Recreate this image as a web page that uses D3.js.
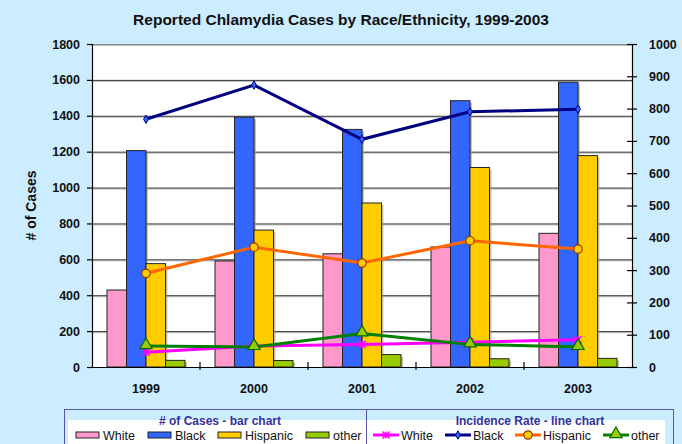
<!DOCTYPE html>
<html>
<head>
<meta charset="utf-8">
<script src="https://cdn.jsdelivr.net/npm/d3@7"></script>
<style>
  body { margin: 0; background: #CCECFF; }
  svg { display: block; font-family: "Liberation Sans", Arial, sans-serif; }
</style>
</head>
<body>
<svg id="chart" width="682" height="444"></svg>
<script>
// Data
const years = ["1999", "2000", "2001", "2002", "2003"];
const groups = ["White", "Black", "Hispanic", "other"];

// # of cases (bars, left axis)
const casesWhite = [429, 591, 631, 669, 745];
const casesBlack = [1206, 1392, 1324, 1484, 1587];
const casesHispanic = [576, 763, 914, 1112, 1178];
const casesOther = [37, 36, 69, 46, 48];

// incidence rate (lines, right axis)
const rateWhite = [46, 65, 70, 77, 84];
const rateBlack = [767, 873, 705, 790, 798];
const rateHispanic = [290, 371, 322, 391, 365];
const rateOther = [65, 62, 104, 70, 62];

const leftTicks = [0, 200, 400, 600, 800, 1000, 1200, 1400, 1600, 1800];
const rightTicks = [0, 100, 200, 300, 400, 500, 600, 700, 800, 900, 1000];

const barColors = ["#FF99CC", "#3366FF", "#FFCC00", "#99CC00"];
const cases = [casesWhite, casesBlack, casesHispanic, casesOther];

const lineSeries = [
  {name: "White", values: rateWhite, color: "#FF00FF", marker: "x"},
  {name: "Black", values: rateBlack, color: "#000080", marker: "diamond"},
  {name: "Hispanic", values: rateHispanic, color: "#FF6600", marker: "circle"},
  {name: "other", values: rateOther, color: "#008000", marker: "triangle"}
];

const svg = d3.select("#chart");
const margin = {top: 44, right: 50, bottom: 77, left: 92};
const width = 682 - margin.left - margin.right,
      height = 444 - margin.top - margin.bottom;

const g = svg.append("g").attr("transform", `translate(${margin.left},${margin.top})`);

// title
svg.append("text")
  .attr("x", 341).attr("y", 25)
  .attr("text-anchor", "middle")
  .style("font-size", "15.5px").style("font-weight", "bold").style("fill", "#111")
  .text("Reported Chlamydia Cases by Race/Ethnicity, 1999-2003");

// scales
const x = d3.scaleBand().domain(years).range([0, width]);
const xInner = d3.scaleBand().domain(groups).range([15, x.bandwidth() - 15]);
const y = d3.scaleLinear().domain([0, 1800]).range([height, 0]);
const y2 = d3.scaleLinear().domain([0, 1000]).range([height, 0]);

// plot area
g.append("rect").attr("width", width).attr("height", height).attr("fill", "#fff");

// gridlines with a faint shadow
g.selectAll(".grid-sh").data(leftTicks.slice(1))
  .enter().append("line")
  .attr("x1", 0).attr("x2", width)
  .attr("y1", d => y(d) + 1.5).attr("y2", d => y(d) + 1.5)
  .attr("stroke", "#bbb").attr("stroke-width", 1);
g.selectAll(".grid").data(leftTicks.slice(1))
  .enter().append("line")
  .attr("x1", 0).attr("x2", width)
  .attr("y1", d => y(d) + 0.5).attr("y2", d => y(d) + 0.5)
  .attr("stroke", d => d === 1800 ? "#888" : "#333").attr("stroke-width", 1);

// bars
const barData = [];
years.forEach((yr, i) => {
  groups.forEach((grp, j) => barData.push({year: yr, group: grp, value: cases[j][i], color: barColors[j]}));
});

const bars = g.append("g");
bars.selectAll(".shadow").data(barData).enter().append("rect")
  .attr("x", d => x(d.year) + xInner(d.group) + 2)
  .attr("y", d => y(d.value) + 2)
  .attr("width", xInner.bandwidth())
  .attr("height", d => height - y(d.value) - 2)
  .attr("fill", "#999").attr("opacity", 0.6);
bars.selectAll(".bar").data(barData).enter().append("rect")
  .attr("class", "bar")
  .attr("x", d => x(d.year) + xInner(d.group))
  .attr("y", d => y(d.value))
  .attr("width", xInner.bandwidth())
  .attr("height", d => height - y(d.value))
  .attr("fill", d => d.color)
  .attr("stroke", "#222").attr("stroke-width", 1);

// axes
const leftAxis = g.append("g")
  .call(d3.axisLeft(y).tickValues(leftTicks).tickFormat(d3.format("d")).tickSize(5).tickPadding(7));
const rightAxis = g.append("g")
  .attr("transform", `translate(${width},0)`)
  .call(d3.axisRight(y2).tickValues(rightTicks).tickFormat(d3.format("d")).tickSize(5).tickPadding(12));
rightAxis.selectAll(".tick line").attr("x1", -5);
const bottomAxis = g.append("g")
  .attr("transform", `translate(0,${height})`)
  .call(d3.axisBottom(x).tickSize(0).tickPadding(17));

[leftAxis, rightAxis, bottomAxis].forEach(a => {
  a.select(".domain").attr("stroke", "#000").attr("stroke-width", 1.2);
  a.selectAll(".tick line").attr("stroke", "#000").attr("stroke-width", 1.2);
  a.selectAll("text").style("font-size", "12.5px").style("font-weight", "bold")
    .style("fill", "#111").style("font-family", "'Liberation Sans', Arial, sans-serif");
});
rightAxis.selectAll("text").attr("text-anchor", "start");

// category separator ticks
g.append("g").selectAll("line").data(years.slice(1)).enter().append("line")
  .attr("x1", d => x(d)).attr("x2", d => x(d))
  .attr("y1", height - 5).attr("y2", height + 3)
  .attr("stroke", "#000").attr("stroke-width", 1.2);

// y axis title
svg.append("text")
  .attr("transform", `translate(36,${margin.top + height / 2}) rotate(-90)`)
  .attr("text-anchor", "middle")
  .style("font-size", "14px").style("font-weight", "bold").style("fill", "#111")
  .text("# of Cases");

// lines
const cx = yr => x(yr) + x.bandwidth() / 2;
const line = d3.line().x((d, i) => cx(years[i])).y(d => y2(d));

function drawMarker(sel, type, color, px, py, s) {
  if (type === "circle") {
    sel.append("circle").attr("cx", px).attr("cy", py).attr("r", s)
      .attr("fill", "#FFCC00").attr("stroke", "#993300").attr("stroke-width", 1.2);
  } else if (type === "diamond") {
    sel.append("path").attr("d", d3.symbol(d3.symbolDiamond, s * s * 3)())
      .attr("transform", `translate(${px},${py})`)
      .attr("fill", "#3366FF").attr("stroke", "#000080").attr("stroke-width", 1);
  } else if (type === "triangle") {
    sel.append("path").attr("d", d3.symbol(d3.symbolTriangle, s * s * 5)())
      .attr("transform", `translate(${px},${py - 1})`)
      .attr("fill", "#99CC00").attr("stroke", "#006600").attr("stroke-width", 1.2);
  } else {
    sel.append("path").attr("d", `M${px - s},${py - s}L${px + s},${py + s}M${px - s},${py + s}L${px + s},${py - s}M${px},${py - s}L${px},${py + s}`)
      .attr("stroke", color).attr("stroke-width", 1.5).attr("fill", "none");
  }
}

const markerSize = {circle: 4.2, diamond: 2.6, triangle: 3.6, x: 3.5};

lineSeries.forEach(s => {
  g.append("path").datum(s.values)
    .attr("d", line).attr("fill", "none")
    .attr("stroke", s.color).attr("stroke-width", 3);
});
lineSeries.forEach(s => {
  s.values.forEach((v, i) => drawMarker(g, s.marker, s.color, cx(years[i]), y2(v), markerSize[s.marker]));
});

// legend
const lg = svg.append("g");
lg.append("rect").attr("x", 64.5).attr("y", 409.5).attr("width", 609).attr("height", 40)
  .attr("fill", "#CCECFF").attr("stroke", "#5555AA").attr("stroke-width", 1);
lg.append("rect").attr("x", 68).attr("y", 420).attr("width", 597).attr("height", 30).attr("fill", "#fff");
lg.append("line").attr("x1", 366.5).attr("x2", 366.5).attr("y1", 409).attr("y2", 444)
  .attr("stroke", "#5555AA").attr("stroke-width", 1);

lg.append("text").attr("x", 220).attr("y", 425).attr("text-anchor", "middle")
  .style("font-size", "12px").style("font-weight", "bold").style("fill", "#333399")
  .text("# of Cases - bar chart");
lg.append("text").attr("x", 530).attr("y", 425).attr("text-anchor", "middle")
  .style("font-size", "12px").style("font-weight", "bold").style("fill", "#333399")
  .text("Incidence Rate - line chart");

const barLegendX = [76, 148, 218, 306];
groups.forEach((grp, j) => {
  lg.append("rect").attr("x", barLegendX[j]).attr("y", 432).attr("width", 23).attr("height", 6)
    .attr("fill", barColors[j]).attr("stroke", "#222").attr("stroke-width", 1);
  lg.append("text").attr("x", barLegendX[j] + 27).attr("y", 440)
    .style("font-size", "12.5px").style("fill", "#111").text(grp);
});

const lineLegendX = [373, 445, 515, 603];
lineSeries.forEach((s, j) => {
  const lx = lineLegendX[j];
  lg.append("line").attr("x1", lx).attr("x2", lx + 26).attr("y1", 435).attr("y2", 435)
    .attr("stroke", s.color).attr("stroke-width", 3);
  drawMarker(lg, s.marker, s.color, lx + 13, 435, markerSize[s.marker]);
  lg.append("text").attr("x", lx + 28).attr("y", 440)
    .style("font-size", "12.5px").style("fill", "#111").text(s.name);
});
</script>
</body>
</html>
